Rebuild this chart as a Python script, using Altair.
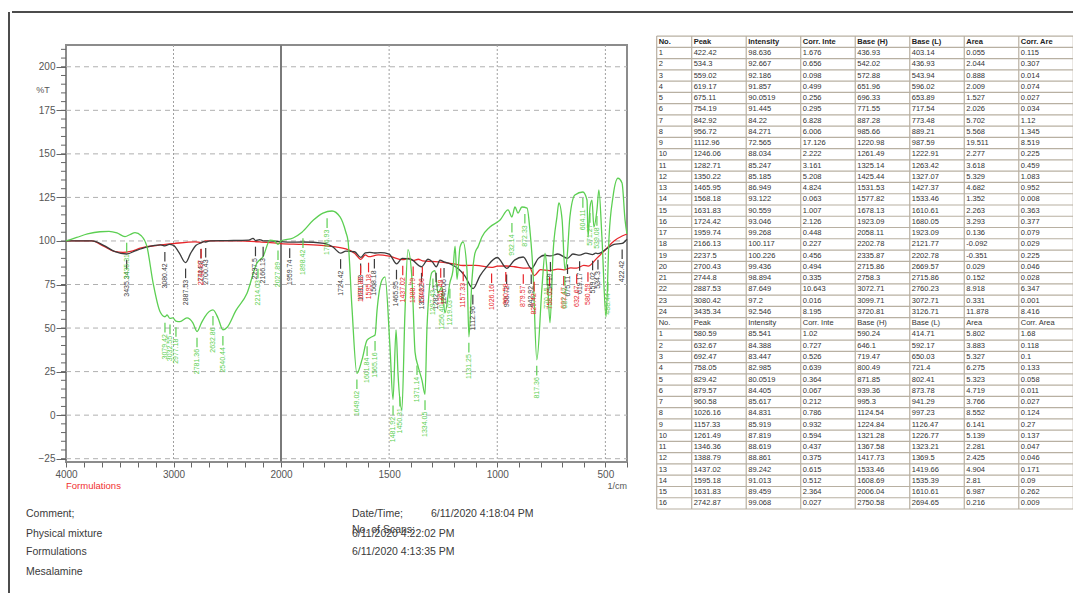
import altair as alt
import pandas as pd

# ---------------- spectra (wavenumber 1/cm, %T) ----------------
green_wn = [4000, 3900, 3800, 3684, 3600, 3526, 3451, 3400, 3358, 3300,
            3247, 3190, 3126, 3079, 3060, 3033, 3005, 2977, 2940, 2875,
            2820, 2781, 2740, 2707, 2633, 2586, 2540, 2500, 2420, 2316,
            2223, 2167, 2102, 2060, 2028, 2000, 1944, 1903, 1850, 1806,
            1764, 1727, 1700, 1690, 1672, 1649, 1625, 1602, 1579, 1565,
            1556, 1533, 1519, 1496, 1482, 1468, 1459, 1441, 1427, 1413,
            1394, 1380, 1366, 1348, 1334, 1325, 1302, 1288, 1274, 1256,
            1242, 1219, 1205, 1195, 1186, 1172, 1158, 1140, 1131, 1117,
            1103, 1089, 1071, 1034, 987, 950, 932, 918, 904, 886,
            862, 849, 835, 817, 793, 779, 770, 756, 742, 724,
            715, 700, 687, 677, 664, 641, 604, 585, 580, 571,
            562, 553, 539, 530, 516, 497, 483, 465, 442, 423,
            409, 400]
green_t = [100, 102, 104, 105.3, 105.5, 104.6, 102.5, 103.8, 104.8, 103,
           96.7, 76, 59.5, 56.5, 57.5, 55.5, 55.8, 54, 53.7, 55.8,
           53, 48, 53, 56.6, 60.4, 55.8, 49, 50.5, 60, 70,
           87.4, 91, 100.5, 100, 98, 100, 101.7, 105, 112, 116,
           117.2, 113.8, 105, 100, 62, 24, 32, 43, 45, 46,
           60, 77.6, 79.4, 39, 9, 49, 24, 3, 58, 95,
           77.6, 36, 28, 20, 12, 50, 82, 83, 70, 73.6,
           58.7, 76, 83, 97, 78, 96.6, 99.4, 83.4, 45, 77.6,
           93, 96.6, 102.3, 108, 112, 117.8, 113.8, 119.5, 116, 119.5,
           118.9, 106.3, 83.4, 31.8, 73.6, 93, 83.4, 53, 93, 113.8,
           121.8, 112, 83.4, 90.8, 113.8, 126.4, 128.1, 123.5, 102.3, 119.5,
           123.5, 108, 117.8, 129.3, 102.3, 56.4, 102.3, 125.2, 136, 133.3,
           112, 104]

black_wn = [4000, 3760, 3650, 3550, 3435, 3350, 3250, 3120, 3080, 3040,
            3000, 2950, 2887, 2840, 2790, 2744, 2720, 2700, 2660, 2500,
            2300, 2260, 2237, 2200, 2166, 2120, 2000, 1959, 1900, 1800,
            1760, 1724, 1700, 1660, 1631, 1610, 1590, 1568, 1540, 1500,
            1465, 1440, 1400, 1350, 1320, 1300, 1282, 1265, 1246, 1220,
            1180, 1150, 1112, 1080, 1050, 1000, 956, 920, 880, 842,
            810, 780, 754, 720, 675, 650, 619, 590, 559, 545,
            534, 500, 460, 422, 400]
black_t = [100, 100, 97.5, 94, 92.5, 94.5, 96.5, 97.8, 97.2, 98,
           97.5, 93.5, 87.6, 93, 97.5, 98.9, 99.6, 99.4, 100, 100.2,
           100.5, 101.5, 100.2, 100.8, 100.1, 100, 99.6, 99.3, 99.4, 98.6,
           96.5, 93.0, 94.2, 93.8, 90.6, 93.2, 93.5, 93.1, 93.3, 92.5,
           86.9, 90, 89.5, 85.2, 89.5, 88, 85.2, 89, 88.0, 87,
           84, 80, 72.6, 80, 85, 90.5, 84.3, 89, 90.8, 84.2,
           90, 91.8, 91.4, 92.5, 90.05, 92.5, 91.9, 93, 92.2, 93,
           92.7, 95, 98, 98.6, 101]

red_wn = [4000, 3760, 3650, 3550, 3470, 3400, 3300, 3150, 3000, 2800,
          2742, 2700, 2400, 2200, 2000, 1900, 1800, 1700, 1660, 1631,
          1610, 1595, 1550, 1500, 1437, 1410, 1388, 1365, 1346, 1300,
          1261, 1200, 1157, 1100, 1026, 1000, 960, 920, 879, 850,
          829, 800, 758, 720, 692, 660, 632, 600, 580, 540,
          500, 460, 420, 400]
red_t = [100, 100, 97, 94, 93.5, 94, 96, 97.5, 98.5, 99.5,
         99.07, 100, 100, 99.5, 98.5, 98, 97.3, 95.5, 93, 89.46,
         92, 91.01, 92, 91.3, 89.24, 90, 88.86, 89.5, 88.62, 88.2,
         87.82, 86.8, 85.92, 86, 84.83, 85.5, 85.62, 85.2, 84.41, 84.5,
         80.05, 83.5, 82.99, 83.8, 83.45, 84.5, 84.39, 86, 85.54, 90,
         95, 100, 103, 104]

# green peak labels
green_peak_lbl = ["3435.31", "3079.42", "3032.55", "2977.18", "2781.36", "2632.86",
                  "2540.44", "2214.03", "2027.89", "1898.42", "1786.93", "1649.02",
                  "1601.84", "1565.16", "1481.92", "1450.31", "1371.14", "1334.05",
                  "1297.43", "1256.40", "1219.03", "1131.25", "932.14", "872.33",
                  "817.36", "770.15", "687.42", "604.11", "571.27", "539.08", "488.44"]
green_peak_t = [102.5, 56.5, 55.5, 54, 48, 60.4, 49, 87.5, 98, 105, 116.5, 24,
                43, 46, 9, 14, 32, 12, 82, 73.6, 76, 45, 113.8, 119, 31.8, 83.4,
                83.4, 128.1, 119.5, 117.8, 80]

# ---------------- peak tables ----------------
head1 = ["No.", "Peak", "Intensity", "Corr. Inte", "Base (H)", "Base (L)", "Area", "Corr. Are"]
head2 = ["No.", "Peak", "Intensity", "Corr. Inte", "Base (H)", "Base (L)", "Area", "Corr. Area"]

t1_peak = ["422.42", "534.3", "559.02", "619.17", "675.11", "754.19", "842.92", "956.72",
           "1112.96", "1246.06", "1282.71", "1350.22", "1465.95", "1568.18", "1631.83",
           "1724.42", "1959.74", "2166.13", "2237.5", "2700.43", "2744.8", "2887.53",
           "3080.42", "3435.34"]
t1_int = ["98.636", "92.667", "92.186", "91.857", "90.0519", "91.445", "84.22", "84.271",
          "72.565", "88.034", "85.247", "85.185", "86.949", "93.122", "90.559", "93.046",
          "99.268", "100.117", "100.226", "99.436", "98.894", "87.649", "97.2", "92.546"]
t1_cint = ["1.676", "0.656", "0.098", "0.499", "0.256", "0.295", "6.828", "6.006", "17.126",
           "2.222", "3.161", "5.208", "4.824", "0.063", "1.007", "2.126", "0.448", "0.227",
           "0.456", "0.494", "0.335", "10.643", "0.016", "8.195"]
t1_bh = ["436.93", "542.02", "572.88", "651.96", "696.33", "771.55", "887.28", "985.66",
         "1220.98", "1261.49", "1325.14", "1425.44", "1531.53", "1577.82", "1678.13",
         "1923.09", "2058.11", "2202.78", "2335.87", "2715.86", "2758.3", "3072.71",
         "3099.71", "3720.81"]
t1_bl = ["403.14", "436.93", "543.94", "596.02", "653.89", "717.54", "773.48", "889.21",
         "987.59", "1222.91", "1263.42", "1327.07", "1427.37", "1533.46", "1610.61",
         "1680.05", "1923.09", "2121.77", "2202.78", "2669.57", "2715.86", "2760.23",
         "3072.71", "3126.71"]
t1_area = ["0.055", "2.044", "0.888", "2.009", "1.527", "2.026", "5.702", "5.568", "19.511",
           "2.277", "3.618", "5.329", "4.682", "1.352", "2.263", "3.293", "0.136", "-0.092",
           "-0.351", "0.029", "0.152", "8.918", "0.331", "11.878"]
t1_carea = ["0.115", "0.307", "0.014", "0.074", "0.027", "0.034", "1.12", "1.345", "8.519",
            "0.225", "0.459", "1.083", "0.952", "0.008", "0.363", "0.377", "0.079", "0.029",
            "0.225", "0.046", "0.028", "6.347", "0.001", "8.416"]

t2_peak = ["580.59", "632.67", "692.47", "758.05", "829.42", "879.57", "960.58", "1026.16",
           "1157.33", "1261.49", "1346.36", "1388.79", "1437.02", "1595.18", "1631.83", "2742.87"]
t2_int = ["85.541", "84.388", "83.447", "82.985", "80.0519", "84.405", "85.617", "84.831",
          "85.919", "87.819", "88.619", "88.861", "89.242", "91.013", "89.459", "99.068"]
t2_cint = ["1.02", "0.727", "0.526", "0.639", "0.364", "0.067", "0.212", "0.786", "0.932",
           "0.594", "0.437", "0.375", "0.615", "0.512", "2.364", "0.027"]
t2_bh = ["590.24", "646.1", "719.47", "800.49", "871.85", "939.36", "995.3", "1124.54",
         "1224.84", "1321.28", "1367.58", "1417.73", "1533.46", "1608.69", "2006.04", "2750.58"]
t2_bl = ["414.71", "592.17", "650.03", "721.4", "802.41", "873.78", "941.29", "997.23",
         "1126.47", "1226.77", "1323.21", "1369.5", "1419.66", "1535.39", "1610.61", "2694.65"]
t2_area = ["5.802", "3.883", "5.327", "6.275", "5.323", "4.719", "3.766", "8.552", "6.141",
           "5.139", "2.281", "2.425", "4.904", "2.81", "6.987", "0.216"]
t2_carea = ["1.68", "0.118", "0.1", "0.133", "0.058", "0.011", "0.027", "0.124", "0.27",
            "0.137", "0.047", "0.046", "0.171", "0.09", "0.262", "0.009"]

y_grid = [-25, 0, 25, 50, 75, 100, 125, 150, 175, 200]
y_minor = list(range(-25, 211, 5))
x_ticks = [4000, 3833.33, 3666.67, 3500, 3333.33, 3166.67, 3000, 2833.33, 2666.67, 2500,
           2333.33, 2166.67, 2000, 1900, 1800, 1700, 1600, 1500, 1400, 1300, 1200, 1100,
           1000, 900, 800, 700, 600, 500, 400]
x_labels = [4000, 3000, 2000, 1500, 1000, 500]
x_dotted = [3000, 1500, 1000, 500]
x_split = [2000]

FONT = "Liberation Sans"
C_GREEN, C_RED, C_BLACK = "#5ccf52", "#e8262a", "#3c3c3c"

xs = alt.Scale(domain=[4000, 2000, 400], range=[0, 215, 561], zero=False, nice=False)
ys = alt.Scale(domain=[-26.9, 212.5], zero=False, nice=False)
label_test = " || ".join("datum.value == %d" % v for v in x_labels)
xaxis = alt.Axis(values=x_ticks, title=None, grid=False, domain=False, tickSize=5,
                 tickColor="#666", labelColor="#555", labelFont=FONT, labelFontSize=10,
                 labelPadding=2, labelFlush=False, labelOverlap=False, format="d",
                 labelExpr="(%s) ? datum.label : ''" % label_test)
yaxis = alt.Axis(values=y_grid, title=None, grid=False, domain=False, tickSize=10,
                 tickColor="#666", labelColor="#555", labelFont=FONT, labelFontSize=10,
                 labelPadding=1)

X = lambda f: alt.X(f, scale=xs, axis=xaxis)
Y = lambda f: alt.Y(f, scale=ys, axis=yaxis)

hgrid = alt.Chart(pd.DataFrame({"g": y_grid})).mark_rule(
    color="#b0b0b0", strokeDash=[5, 4], strokeWidth=1).encode(
    y=Y("g:Q"), x=alt.value(0), x2=alt.value(561))
vgrid = alt.Chart(pd.DataFrame({"v": x_dotted})).mark_rule(
    color="#a0a0a0", strokeDash=[2, 2], strokeWidth=1).encode(
    x=X("v:Q"), y=alt.value(0), y2=alt.value(417))
vsplit = alt.Chart(pd.DataFrame({"v": x_split})).mark_rule(
    color="#7a7a7a", strokeWidth=2).encode(x=X("v:Q"), y=alt.value(0), y2=alt.value(417))
yminor = alt.Chart(pd.DataFrame({"m": y_minor})).mark_rule(
    color="#666", strokeWidth=1).encode(y=Y("m:Q"), x=alt.value(-5), x2=alt.value(0))


def spectrum(wn, t, color):
    return alt.Chart(pd.DataFrame({"wn": wn, "t": t})).mark_line(
        color=color, strokeWidth=1.3, interpolate="monotone").encode(
        x=X("wn:Q"), y=Y("t:Q"), order=alt.Order("wn:Q", sort="descending"))


red_line = spectrum(red_wn, red_t, C_RED)
black_line = spectrum(black_wn, black_t, C_BLACK)
green_line = spectrum(green_wn, green_t, C_GREEN)

peaks = pd.concat([
    pd.DataFrame({"lbl": t1_peak, "wn": [float(v) for v in t1_peak],
                  "t": [float(v) for v in t1_int], "s": "Physical mixture"}),
    pd.DataFrame({"lbl": t2_peak, "wn": [float(v) for v in t2_peak],
                  "t": [float(v) for v in t2_int], "s": "Formulations"}),
    pd.DataFrame({"lbl": green_peak_lbl, "wn": [float(v) for v in green_peak_lbl],
                  "t": green_peak_t, "s": "Mesalamine"}),
], ignore_index=True)
pcol = alt.Color("s:N", legend=None, scale=alt.Scale(
    domain=["Physical mixture", "Formulations", "Mesalamine"], range=[C_BLACK, C_RED, C_GREEN]))
pbase = alt.Chart(peaks).transform_calculate(
    ta="datum.t - 3.5", tb="datum.t - 9", tc="datum.t - 10")
peak_ticks = pbase.mark_rule(strokeWidth=1.2).encode(
    x=X("wn:Q"), y=Y("ta:Q"), y2="tb:Q", color=pcol)
peak_text = pbase.mark_text(angle=270, align="right", baseline="middle",
                            fontSize=7, font=FONT).encode(
    x=X("wn:Q"), y=Y("tc:Q"), text="lbl:N", color=pcol)


def ann(text, x, y, color="#3a3a3a", size=10.5, align="left"):
    return alt.Chart(pd.DataFrame({"t": [text]})).mark_text(
        align=align, baseline="middle", font=FONT, fontSize=size, color=color).encode(
        x=alt.value(x), y=alt.value(y), text="t:N")


anns = [
    ann("%T", -23, 45, "#555", 9, "center"),
    ann("Formulations", 0, 441, "#f03030", 9.5),
    ann("1/cm", 561, 441, "#555", 9, "right"),
    ann("Comment;", -40, 469),
    ann("Physical mixture", -40, 489),
    ann("Formulations", -40, 507),
    ann("Mesalamine", -40, 527),
    ann("Date/Time;", 286, 469),
    ann("6/11/2020 4:18:04 PM", 365, 469),
    ann("No. of Scans;", 286, 485),
    ann("6/11/2020 4:22:02 PM", 286, 489),
    ann("6/11/2020 4:13:35 PM", 286, 507),
]

one = pd.DataFrame({"a": [0]})
frame_top = alt.Chart(one).mark_rule(color="#111", strokeWidth=1.5).encode(
    x=alt.value(-54), x2=alt.value(1007), y=alt.value(-33))
frame_left = alt.Chart(one).mark_rule(color="#111", strokeWidth=1.5).encode(
    x=alt.value(-57), y=alt.value(-33), y2=alt.value(548))

main = alt.layer(hgrid, vgrid, vsplit, yminor, red_line, black_line, green_line,
                 peak_ticks, peak_text, frame_top, frame_left, *anns)

# ---------------- table ----------------
rows = []
def add_row(r, vals, kind):
    for c, v in enumerate(vals):
        rows.append({"row": r, "col": c, "txt": v, "kind": kind})

add_row(0, head1, "h")
cols1 = [t1_peak, t1_int, t1_cint, t1_bh, t1_bl, t1_area, t1_carea]
for i in range(len(t1_peak)):
    add_row(1 + i, [str(i + 1)] + [c[i] for c in cols1], "c")
r0 = 1 + len(t1_peak)
add_row(r0, head2, "c")
cols2 = [t2_peak, t2_int, t2_cint, t2_bh, t2_bl, t2_area, t2_carea]
for i in range(len(t2_peak)):
    add_row(r0 + 1 + i, [str(i + 1)] + [c[i] for c in cols2], "c")
nrows = r0 + 1 + len(t2_peak)
tdf = pd.DataFrame(rows)

tx = alt.Scale(domain=[0, 1, 8], range=[590.7, 625.7, 1007.3], zero=False, nice=False)
ty = alt.Scale(domain=[0, nrows], range=[-8.9, 464], zero=False, nice=False)

t_h = alt.Chart(pd.DataFrame({"b": list(range(nrows + 1))})).mark_rule(
    color="#b8b0a2", strokeWidth=1.2).encode(
    y=alt.Y("b:Q", scale=ty, axis=None),
    x=alt.X(datum=0, scale=tx, axis=None), x2=alt.X2(datum=8))
t_v = alt.Chart(pd.DataFrame({"c": list(range(9))})).mark_rule(
    color="#b8b0a2", strokeWidth=1.2).encode(
    x=alt.X("c:Q", scale=tx, axis=None),
    y=alt.Y(datum=0, scale=ty, axis=None), y2=alt.Y2(datum=nrows))
tbase = alt.Chart(tdf).transform_calculate(yc="datum.row + 0.5")
t_head = tbase.transform_filter("datum.kind == 'h'").mark_text(
    align="left", baseline="middle", dx=2, font=FONT, fontSize=7.5,
    fontWeight="bold", color="#222").encode(
    x=alt.X("col:Q", scale=tx, axis=None), y=alt.Y("yc:Q", scale=ty, axis=None), text="txt:N")
t_cell = tbase.transform_filter("datum.kind == 'c'").mark_text(
    align="left", baseline="middle", dx=2, font=FONT, fontSize=7.5, color="#333").encode(
    x=alt.X("col:Q", scale=tx, axis=None), y=alt.Y("yc:Q", scale=ty, axis=None), text="txt:N")

table = alt.layer(t_h, t_v, t_head, t_cell)

chart = alt.layer(main, table).resolve_scale(
    x="independent", y="independent", color="independent").properties(
    width=561, height=417, autosize=alt.AutoSizeParams(type="none"),
    padding={"left": 58, "top": 37, "right": 446, "bottom": 131}).configure_view(
    stroke="#8c8c8c", strokeWidth=2)

chart.save("out.html", embed_options={"renderer": "svg", "actions": False})
